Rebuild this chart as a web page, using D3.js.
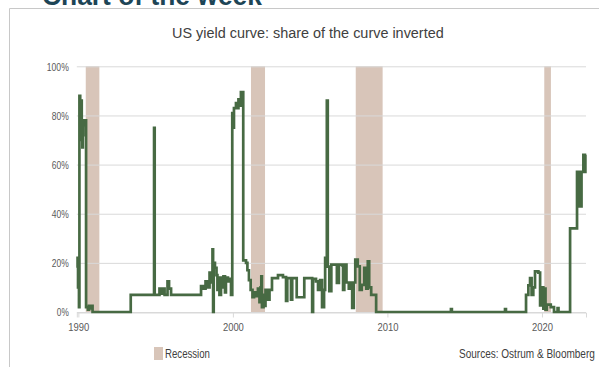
<!DOCTYPE html>
<html>
<head>
<meta charset="utf-8">
<script src="https://cdn.jsdelivr.net/npm/d3@7"></script>
<style>
  html, body { margin: 0; padding: 0; background: #fff; overflow: hidden; }
  svg { display: block; }
  text { font-family: "Liberation Sans Narrow", "Arial Narrow", "Liberation Sans", sans-serif; }
</style>
</head>
<body>
<svg id="chart" width="599" height="367"></svg>
<script>
// Texts
const pageTitle = "Chart of the week";
const chartTitle = "US yield curve: share of the curve inverted";
const sourceNote = "Sources: Ostrum & Bloomberg";
const legendLabel = "Recession";

// Axis ticks
const yTicks = [0, 20, 40, 60, 80, 100];
const xTicks = [1990, 2000, 2010, 2020];

// NBER recessions (decimal years)
const recessionStart = [1990.48, 2001.17, 2007.95, 2020.15];
const recessionEnd   = [1991.36, 2002.08, 2009.69, 2020.58];

// Share of the curve inverted (%), as steps starting at each date
const dates = [
  1989.91, 1989.95, 1989.98, 1990.01, 1990.04, 1990.07, 1990.12, 1990.16, 1990.19, 1990.22,
  1990.26, 1990.29, 1990.32, 1990.40, 1990.46, 1990.50, 1990.62, 1990.69, 1990.79, 1990.85,
  1990.92, 1993.39, 1994.90, 1994.94, 1995.25, 1995.38, 1995.45, 1995.58, 1995.77, 1995.87,
  1996.00, 1997.94, 1998.07, 1998.23, 1998.33, 1998.49, 1998.58, 1998.68, 1998.72, 1998.76,
  1998.84, 1998.94, 1999.00, 1999.07, 1999.13, 1999.23, 1999.33, 1999.39, 1999.49, 1999.55,
  1999.68, 1999.78, 1999.88, 1999.96, 2000.03, 2000.07, 2000.20, 2000.30, 2000.36, 2000.46,
  2000.52, 2000.67, 2000.85, 2000.94, 2001.04, 2001.15, 2001.27, 2001.37, 2001.50, 2001.62,
  2001.72, 2001.79, 2001.84, 2001.88, 2001.98, 2002.04, 2002.11, 2002.27, 2002.37, 2002.53,
  2002.92, 2003.24, 2003.44, 2003.52, 2003.76, 2003.84, 2004.13, 2004.62, 2005.13, 2005.19,
  2005.38, 2005.51, 2005.64, 2005.77, 2005.90, 2005.97, 2006.08, 2006.14, 2006.24, 2006.37,
  2006.73, 2006.86, 2007.07, 2007.13, 2007.21, 2007.35, 2007.50, 2007.66, 2007.72, 2007.82,
  2007.92, 2008.08, 2008.21, 2008.34, 2008.50, 2008.63, 2008.73, 2008.82, 2008.95, 2009.27,
  2014.11, 2014.17, 2017.61, 2017.67, 2018.97, 2019.12, 2019.23, 2019.33, 2019.44, 2019.55,
  2019.77, 2019.88, 2019.99, 2020.09, 2020.15, 2020.23, 2020.31, 2020.57, 2020.78, 2021.01,
  2021.07, 2021.82, 2022.27, 2022.42, 2022.56, 2022.68, 2022.78, 2022.81, 2022.85
];
const shareInverted = [
  18, 22, 10, 16, 2, 88, 84, 80, 86, 70,
  67, 72, 78, 76, 78, 2, 1, 2.5, 1.5, 2.5,
  0, 7, 75, 7, 9.5, 7.5, 9.5, 7, 12.5, 9.5,
  7, 10.5, 9.5, 12.5, 10, 16, 12, 25.5, 0, 20,
  18, 15, 9, 14, 7, 14, 10, 14.5, 8, 14,
  12.5, 13.5, 7, 81, 75, 83, 85, 83, 86.5, 84,
  89.5, 21, 20, 17, 13, 9, 6, 8, 6.5, 9.5,
  4, 10, 14.5, 2, 7, 2.5, 9, 5, 9, 13.8,
  15, 14.2, 4.5, 13.8, 5, 13.8, 6, 13.8, 0, 13.5,
  12.5, 9, 13, 2, 9, 22, 86, 18.5, 8.5, 19.3,
  11.8, 19.3, 19, 9, 19.3, 12, 9.5, 12, 1.7, 12,
  21.3, 18.6, 9, 11, 18, 9.5, 20.6, 10, 7, 0,
  1.2, 0, 1.2, 0, 7, 10.8, 13.8, 7, 10, 16.5,
  16, 2.7, 10, 1.4, 9.5, 1, 3, 2, 0, 1.6,
  0, 34, 57, 43, 57, 64, 57, 64, 64
];

// Colours
const lineColor = "#476a43";
const bandColor = "#d8c5b9";
const gridColor = "#d9d9d9";
const labelColor = "#595959";

const svg = d3.select("#chart");

// Narrow axis label runs to a given width while keeping their height
function fitWidth(sel, w) {
  sel.attr("textLength", w).attr("lengthAdjust", "spacingAndGlyphs");
}

// Place a text at (x, y) and squeeze it horizontally to width w
function narrowText(parent, str, px, py, w, size, fill, extra) {
  const g = parent.append("g");
  const t = g.append("text")
    .attr("x", 0).attr("y", 0)
    .style("font-size", size + "px")
    .attr("fill", fill)
    .text(str);
  if (extra) extra(t);
  const k = w / t.node().getComputedTextLength();
  g.attr("transform", `translate(${px},${py}) scale(${k},1)`);
  return t;
}

// Outer frame and heading
svg.append("path")
  .attr("d", "M9.5,367 V8.5 H599")
  .attr("fill", "none")
  .attr("stroke", "#c8c8c8")
  .attr("stroke-width", 1);

narrowText(svg, pageTitle, 42, 4.5, 220, 27, "#1d4556", t => t
  .style("font-family", "'Liberation Sans', Arial, sans-serif")
  .style("font-weight", "bold"));

narrowText(svg, chartTitle, 172, 38, 272, 14.5, "#404040");

// Scales
const x = d3.scaleLinear().domain([1989.9, 2022.85]).range([76.8, 586]);
const y = d3.scaleLinear().domain([0, 100]).range([312, 66.3]);

// Recession bands
const bands = recessionStart.map((s, i) => ({ s, e: recessionEnd[i] }));
svg.append("g").selectAll("rect")
  .data(bands)
  .join("rect")
  .attr("x", d => x(d.s))
  .attr("width", d => x(d.e) - x(d.s))
  .attr("y", y(100))
  .attr("height", y(0) - y(100))
  .attr("fill", bandColor);

// Horizontal gridlines
svg.append("g").selectAll("line")
  .data(yTicks)
  .join("line")
  .attr("x1", x.range()[0]).attr("x2", x.range()[1])
  .attr("y1", d => y(d) + 0.5).attr("y2", d => y(d) + 0.5)
  .attr("stroke", gridColor)
  .attr("stroke-width", 1);

// Y axis labels
const yAxis = svg.append("g")
  .attr("transform", `translate(${x.range()[0] - 8},0.5)`)
  .call(d3.axisLeft(y).tickValues(yTicks).tickSize(0).tickPadding(0).tickFormat(d => d + "%"));
yAxis.select(".domain").remove();
yAxis.selectAll("text")
  .style("font-size", "10.5px")
  .attr("fill", labelColor)
  .each(function (d) { d3.select(this).call(fitWidth, d === 100 ? 22 : d === 0 ? 12 : 17); });

// X axis
const xAxis = svg.append("g")
  .attr("transform", `translate(0,${y(0) + 0.5})`)
  .call(d3.axisBottom(x).tickValues(xTicks).tickSize(5).tickPadding(6).tickFormat(d3.format("d")));
xAxis.select(".domain").attr("stroke", gridColor);
xAxis.selectAll(".tick line").attr("stroke", gridColor);
xAxis.selectAll("text")
  .style("font-size", "11px")
  .attr("fill", labelColor)
  .call(fitWidth, 21);

// Series line
const points = dates.map((t, i) => ({ t, v: shareInverted[i] }));
const line = d3.line()
  .x(d => x(d.t))
  .y(d => y(d.v))
  .curve(d3.curveStepAfter);

svg.append("path")
  .datum(points)
  .attr("d", line)
  .attr("fill", "none")
  .attr("stroke", lineColor)
  .attr("stroke-width", 2.7)
  .attr("stroke-linejoin", "miter");

// Legend
svg.append("rect")
  .attr("x", 154).attr("y", 347)
  .attr("width", 9).attr("height", 13)
  .attr("fill", bandColor);
narrowText(svg, legendLabel, 165, 358, 45, 12, "#404040");

// Source note
narrowText(svg, sourceNote, 459, 358, 136, 12, "#404040");
</script>
</body>
</html>
